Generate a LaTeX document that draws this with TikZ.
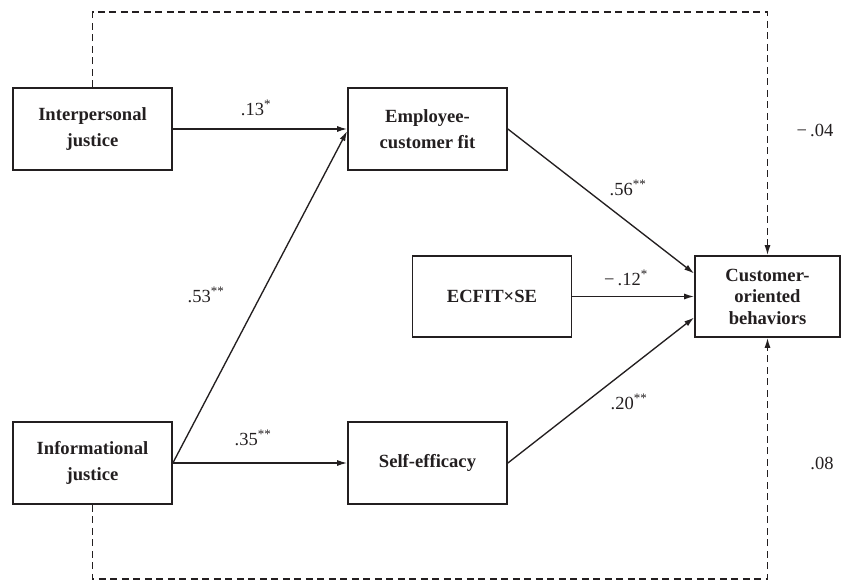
\documentclass[tikz,border=0pt]{standalone}
\usepackage{fontspec}
\setmainfont{Liberation Serif}
\usepackage{tikz}
\usetikzlibrary{arrows.meta,positioning,calc}

\definecolor{ink}{HTML}{231F20}

\tikzset{
  varbox/.style={draw=ink, line width=1.7pt, minimum width=159pt, minimum height=82pt,
    align=center, text=ink, font=\fontsize{18.6}{26}\selectfont\bfseries},
  coef/.style={text=ink, font=\fontsize{18.5}{20}\selectfont, inner sep=0pt},
  path/.style={draw=ink, line width=1.35pt, -{Latex[length=10pt,width=6pt]}},
  dashpath/.style={draw=ink, line width=1.35pt, dash pattern=on 7pt off 4.5pt, -{Latex[length=10pt,width=6pt]}}
}

\begin{document}
\begin{tikzpicture}[x=1pt, y=-1pt]
            \useasboundingbox (0,0) rectangle (841,581);

            % Predictors
            \node[varbox] (ij) at (92.5,129) {Interpersonal\\justice};
            \node[varbox] (inf) at (92.5,463) {Informational\\justice};

            % Mediators and moderator
            \node[varbox] (ecf) at (427.5,129) {Employee-\\customer fit};
            \node[varbox] (se) at (427.5,463) {Self-efficacy};
            \node[varbox, minimum height=81pt] (int) at (492,296.5) {ECFIT×SE};

            % Outcome
            \node[varbox, minimum width=145pt, minimum height=81pt, font=\fontsize{18.6}{21.5}\selectfont\bfseries] (cob) at (767.5,296.5) {Customer-\\oriented\\behaviors};

            % Dashed direct paths
            \coordinate (top) at (0,12);
            \coordinate (bot) at (0,579);
            \draw[dashpath] (ij.north) -- (ij.north |- top) -| (cob.north);
            \draw[dashpath] (inf.south) -- (inf.south |- bot) -| (cob.south);

            % Arrows
            \draw[path] (ij) -- (ecf);
            \draw[path] (inf.east) -- ($(ecf.west)+(0,2)$);
            \draw[path] (inf) -- (se);
            \draw[path] (ecf.east) -- ($(cob.west)+(0,-23)$);
            \draw[path] (int) -- (cob);
            \draw[path] (se.east) -- ($(cob.west)+(0,21)$);

            % Coefficients
            \node[coef] (c13) at (256,108) {.13\textsuperscript{*}};
            \node[coef] (c53) at (206,295) {.53\textsuperscript{**}};
            \node[coef] (c35) at (253,438) {.35\textsuperscript{**}};
            \node[coef] (c56) at (628,188) {.56\textsuperscript{**}};
            \node[coef] (c12) at (626,278) {−\,.12\textsuperscript{*}};
            \node[coef] (c20) at (629,402) {.20\textsuperscript{**}};
            \node[coef] (c04) at (815,130) {−\,.04};
            \node[coef] (c08) at (822,463) {.08};
        \end{tikzpicture}
\end{document}
